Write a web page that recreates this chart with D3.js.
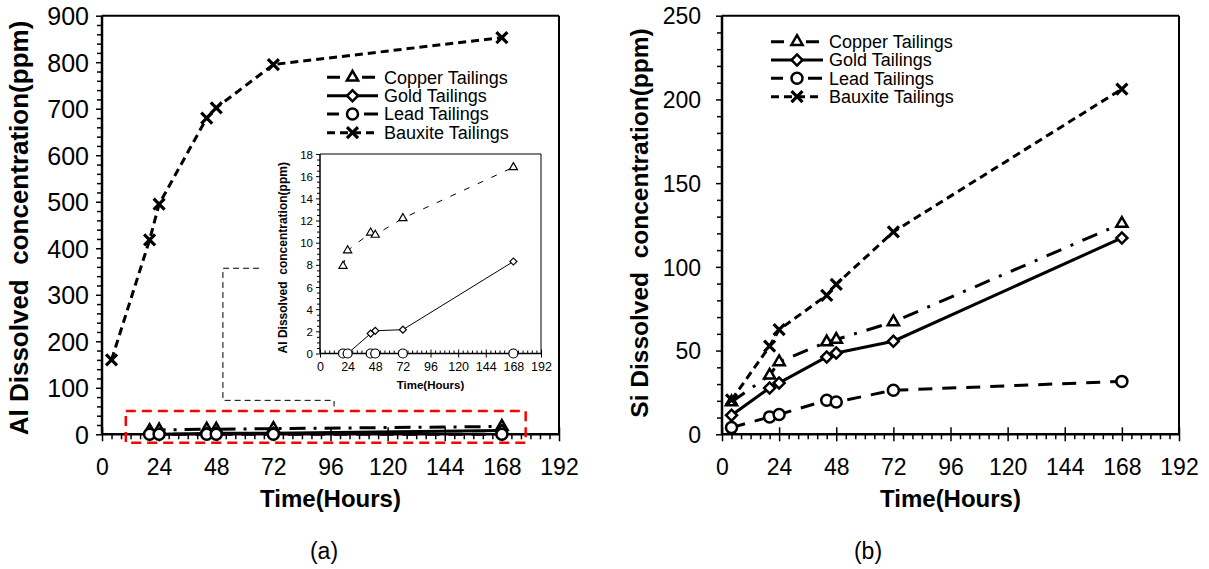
<!DOCTYPE html>
<html><head><meta charset="utf-8">
<script src="https://cdn.jsdelivr.net/npm/d3@7"></script>
<style>
html,body{margin:0;padding:0;background:#fff;}
svg{display:block;}
text{font-family:"Liberation Sans",Arial,sans-serif;fill:#000;}
</style></head><body>
<svg id="chart" width="1209" height="569"></svg>
<script>
// ---------- data ----------
const xTickValues = [0,24,48,72,96,120,144,168,192];
const alTickValues = [0,100,200,300,400,500,600,700,800,900];
const siTickValues = [0,50,100,150,200,250];
const insetTickValues = [0,2,4,6,8,10,12,14,16,18];
const seriesNames = ["Copper Tailings","Gold Tailings","Lead Tailings","Bauxite Tailings"];

// (a) Al dissolved concentration (ppm)
const alHoursBauxite = [4,20,24,44,48,72,168];
const alBauxite = [160,418,495,680,702,795,853];
const alHours = [20,24,44,48,72,168];
const alCopper = [7.9,9.3,10.9,10.7,12.2,16.8];
const alGold = [0,0,1.8,2.05,2.15,8.3];
const alLead = [0,0,0,0,0,0];

// (b) Si dissolved concentration (ppm)
const siHours = [4,20,24,44,48,72,168];
const siCopper = [19.3,35.2,43.2,55.1,56.6,67.1,125.9];
const siGold = [11.4,27.7,30.7,46.2,48.6,55.6,117.3];
const siLead = [4.0,10.4,11.8,20.3,19.3,26.3,31.6];
const siBauxite = [20.5,52.6,62.5,83.0,89.6,120.9,206.2];

// ---------- drawing ----------
const svg = d3.select('#chart');
const FONT = '"Liberation Sans",Arial,sans-serif';

const xA = d3.scaleLinear().domain([0,192]).range([102,559]);
const yA = d3.scaleLinear().domain([0,900]).range([434.3,15.7]);
const xB = d3.scaleLinear().domain([0,192]).range([722,1179]);
const yB = d3.scaleLinear().domain([0,250]).range([434.3,15.7]);
const xI = d3.scaleLinear().domain([0,192]).range([320,541]);
const yI = d3.scaleLinear().domain([0,18]).range([353.5,154]);

function drawAxes(x, y, c) {
  const g = svg.append('g');
  const [x0,x1] = x.range(); const [yb,yt] = y.range();
  const xMin = d3.range(x.domain()[0], x.domain()[1]+1e-9, c.xMinor).filter(v => !c.xTicks.includes(v));
  const gxm = g.append('g').attr('transform',`translate(0,${yb})`)
    .call(d3.axisBottom(x).tickValues(xMin).tickSize(c.minorLen).tickFormat('').tickSizeOuter(0));
  gxm.select('.domain').remove();
  gxm.selectAll('line').attr('stroke','#000').attr('stroke-width',c.tickW).attr('y2', c.xMinorDir*c.minorLen);
  const gx = g.append('g').attr('transform',`translate(0,${yb})`)
    .call(d3.axisBottom(x).tickValues(c.xTicks).tickSize(c.majorLen).tickSizeOuter(0));
  gx.select('.domain').remove();
  gx.selectAll('line').attr('y1',-c.majorLen).attr('stroke','#000').attr('stroke-width',c.tickW);
  gx.selectAll('text').attr('y',c.xLabelY).attr('dy','0.36em').style('font-size',c.fontX+'px').style('font-family',FONT);

  const yMin = d3.range(y.domain()[0], y.domain()[1]+1e-9, c.yMinor).filter(v => !c.yTicks.includes(v));
  const gym = g.append('g').attr('transform',`translate(${x0},0)`)
    .call(d3.axisLeft(y).tickValues(yMin).tickSize(c.minorLen).tickFormat('').tickSizeOuter(0));
  gym.select('.domain').remove();
  gym.selectAll('line').attr('stroke','#000').attr('stroke-width',c.tickW);
  const gy = g.append('g').attr('transform',`translate(${x0},0)`)
    .call(d3.axisLeft(y).tickValues(c.yTicks).tickSize(c.yMajorLen).tickSizeOuter(0));
  gy.select('.domain').remove();
  gy.selectAll('line').attr('stroke','#000').attr('stroke-width',c.tickW);
  gy.selectAll('text').attr('x',-c.yLabelGap).attr('dy','0.36em').style('font-size',c.fontY+'px').style('font-family',FONT);

  // frame
  g.append('line').attr('x1',x0).attr('x2',x1).attr('y1',yt).attr('y2',yt).attr('stroke','#000').attr('stroke-width',c.frameW);
  g.append('line').attr('x1',x1).attr('x2',x1).attr('y1',yt).attr('y2',yb).attr('stroke','#000').attr('stroke-width',c.frameW);
  g.append('line').attr('x1',x0).attr('x2',x0).attr('y1',yt).attr('y2',yb).attr('stroke','#000').attr('stroke-width',c.axisW);
  g.append('line').attr('x1',x0).attr('x2',x1).attr('y1',yb).attr('y2',yb).attr('stroke','#000').attr('stroke-width',c.axisW);
}

function drawMarker(g, type, cx, cy, s, sw) {
  if (type === 'tri') {
    g.append('path').attr('d', d3.symbol(d3.symbolTriangle, s*s*0.45)()).attr('transform',`translate(${cx},${cy})`)
      .attr('fill','#fff').attr('stroke','#000').attr('stroke-width',sw).attr('stroke-linejoin','miter');
  } else if (type === 'dia') {
    g.append('path').attr('d', d3.symbol(d3.symbolSquare, s*s*0.5)()).attr('transform',`translate(${cx},${cy}) rotate(45)`)
      .attr('fill','#fff').attr('stroke','#000').attr('stroke-width',sw);
  } else if (type === 'cir') {
    g.append('circle').attr('cx',cx).attr('cy',cy).attr('r',s/2)
      .attr('fill','#fff').attr('stroke','#000').attr('stroke-width',sw);
  } else if (type === 'x') {
    const h = s/2;
    g.append('path').attr('d',`M${cx-h},${cy-h}L${cx+h},${cy+h}M${cx-h},${cy+h}L${cx+h},${cy-h}`)
      .attr('stroke','#000').attr('stroke-width',sw).attr('fill','none');
  }
}

function drawSeries(x, y, hrs, vals, st) {
  const g = svg.append('g');
  const pts = hrs.map((h,i) => [x(h), y(vals[i])]);
  g.append('path').attr('d', d3.line()(pts)).attr('fill','none').attr('stroke','#000')
    .attr('stroke-width',st.w).attr('stroke-dasharray',st.dash || null);
  pts.forEach(p => drawMarker(g, st.m, p[0], p[1], st.ms, st.msw));
}

function drawLegend(lx0, lx1, tx, rows, styles, fs) {
  const g = svg.append('g');
  styles.forEach((st,i) => {
    const yy = rows[i];
    g.append('line').attr('x1',lx0).attr('x2',lx1).attr('y1',yy).attr('y2',yy)
      .attr('stroke','#000').attr('stroke-width',st.w).attr('stroke-dasharray',st.ldash || st.dash || null);
    drawMarker(g, st.m, (lx0+lx1)/2, yy, st.ms, st.msw);
    g.append('text').attr('x',tx).attr('y',yy).attr('dy','0.36em').style('font-size',fs+'px').text(seriesNames[i]);
  });
}

// ---- Panel (a) ----
const stA = {
  copper: {w:3, dash:'16,8,3,8', ldash:'13,22,13', m:'tri', ms:11, msw:2.5},
  gold:   {w:3, dash:null, m:'dia', ms:11, msw:2.5},
  lead:   {w:3, dash:'14,9', ldash:'12,25,14', m:'cir', ms:11, msw:2.5},
  bauxite:{w:3, dash:'8,5', m:'x', ms:11, msw:3.2}
};
drawAxes(xA, yA, {xTicks:xTickValues, yTicks:alTickValues, xMinor:4, yMinor:20, majorLen:7, yMajorLen:6, minorLen:5,
  xMinorDir:1, tickW:1.5, axisW:2.5, frameW:2, fontX:23, fontY:25, xLabelY:32, yLabelGap:13});

drawSeries(xA, yA, alHoursBauxite, alBauxite, stA.bauxite);
drawSeries(xA, yA, alHours, alCopper, stA.copper);
drawSeries(xA, yA, alHours, alGold, stA.gold);
drawSeries(xA, yA, alHours, alLead, stA.lead);

// zoom box + connector
svg.append('rect').attr('x',xA(10)).attr('y',yA(50)).attr('width',xA(178)-xA(10)).attr('height',yA(-18)-yA(50))
  .attr('fill','none').attr('stroke','#f00').attr('stroke-width',2.5).attr('stroke-dasharray','10,6');
svg.append('path').attr('d',`M${xA(66)},${yA(357)}H${xA(50.8)}V${yA(73)}H${xA(97.5)}V${yA(60)}`)
  .attr('fill','none').attr('stroke','#000').attr('stroke-width',1).attr('stroke-dasharray','6,4');

drawLegend(327, 378, 384, [77.3,95.7,114,132.7], [stA.copper, stA.gold, stA.lead, stA.bauxite], 18);

// inset
svg.append('rect').attr('x',xI.range()[0]).attr('y',yI.range()[1]).attr('width',xI.range()[1]-xI.range()[0])
  .attr('height',yI.range()[0]-yI.range()[1]).attr('fill','#fff');
drawAxes(xI, yI, {xTicks:xTickValues, yTicks:insetTickValues, xMinor:4, yMinor:0.5, majorLen:4, yMajorLen:4, minorLen:3,
  xMinorDir:-1, tickW:1, axisW:1.5, frameW:1, fontX:12.5, fontY:11.5, xLabelY:13, yLabelGap:7});
const stI = {
  copper: {w:1, dash:'6,9', m:'tri', ms:8, msw:1.2},
  gold:   {w:1, dash:null, m:'dia', ms:7, msw:1.2},
  lead:   {w:1, dash:null, m:'cir', ms:9, msw:1.2}
};
drawSeries(xI, yI, alHours, alCopper, stI.copper);
drawSeries(xI, yI, alHours, alGold, stI.gold);
drawSeries(xI, yI, alHours, alLead, stI.lead);
svg.append('text').attr('x',d3.mean(xI.range())).attr('y',385).attr('dy','0.36em').attr('text-anchor','middle')
  .style('font-size','11.5px').style('font-weight','bold').text('Time(Hours)');
svg.append('text').attr('transform',`translate(283,${d3.mean(yI.range())+4}) rotate(-90)`).attr('text-anchor','middle')
  .attr('dy','0.36em').style('font-size','12px').style('font-weight','bold').style('white-space','pre')
  .text('Al Dissolved  concentration(ppm)');

// titles (a)
svg.append('text').attr('x',d3.mean(xA.range())).attr('y',498).attr('dy','0.36em').attr('text-anchor','middle')
  .style('font-size','24px').style('font-weight','bold').text('Time(Hours)');
svg.append('text').attr('transform','translate(19,228) rotate(-90)').attr('text-anchor','middle')
  .attr('dy','0.36em').style('font-size','26px').style('font-weight','bold').style('white-space','pre')
  .text('Al Dissolved  concentration(ppm)');
svg.append('text').attr('x',324).attr('y',551).attr('dy','0.36em').attr('text-anchor','middle')
  .style('font-size','23px').text('(a)');

// ---- Panel (b) ----
const stB = {
  copper: {w:3, dash:'16,10,3,10', ldash:'13,22,13', m:'tri', ms:11, msw:2.5},
  gold:   {w:3, dash:null, m:'dia', ms:11, msw:2.5},
  lead:   {w:3, dash:'14,10', ldash:'12,25,14', m:'cir', ms:11, msw:2.5},
  bauxite:{w:3, dash:'8,5', m:'x', ms:11, msw:3.2}
};
drawAxes(xB, yB, {xTicks:xTickValues, yTicks:siTickValues, xMinor:4, yMinor:10, majorLen:7, yMajorLen:6, minorLen:5,
  xMinorDir:1, tickW:1.5, axisW:2.5, frameW:2, fontX:23, fontY:23, xLabelY:32, yLabelGap:21});
drawSeries(xB, yB, siHours, siLead, stB.lead);
drawSeries(xB, yB, siHours, siGold, stB.gold);
drawSeries(xB, yB, siHours, siCopper, stB.copper);
drawSeries(xB, yB, siHours, siBauxite, stB.bauxite);
drawLegend(771, 823, 829, [41.7,60,78.3,96.7], [stB.copper, stB.gold, stB.lead, stB.bauxite], 18);

svg.append('text').attr('x',d3.mean(xB.range())).attr('y',498).attr('dy','0.36em').attr('text-anchor','middle')
  .style('font-size','24px').style('font-weight','bold').text('Time(Hours)');
svg.append('text').attr('transform','translate(639,223) rotate(-90)').attr('text-anchor','middle')
  .attr('dy','0.36em').style('font-size','24.5px').style('font-weight','bold').style('white-space','pre')
  .text('Si Dissolved  concentration(ppm)');
svg.append('text').attr('x',868).attr('y',551).attr('dy','0.36em').attr('text-anchor','middle')
  .style('font-size','23px').text('(b)');
</script>
</body></html>
